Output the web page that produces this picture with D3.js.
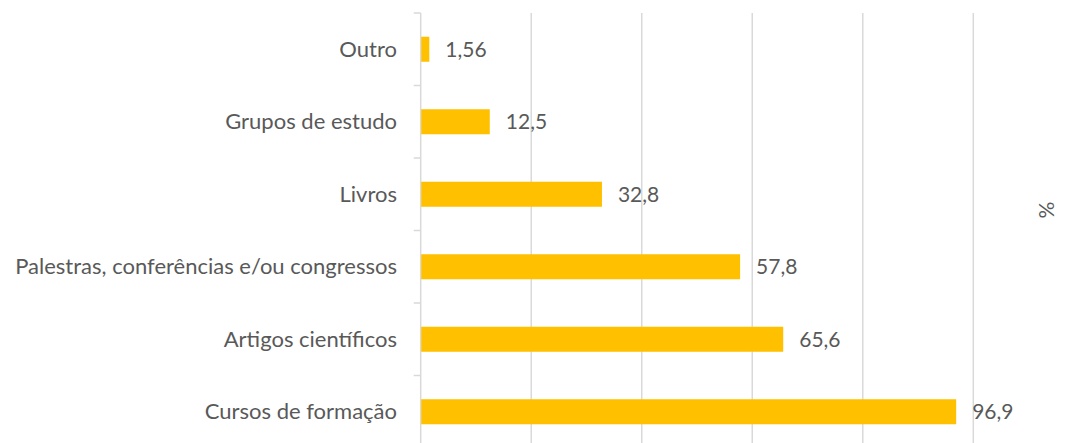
<!DOCTYPE html>
<html>
<head>
<meta charset="utf-8">
<script src="https://cdn.jsdelivr.net/npm/d3@7"></script>
<style>
  body { margin: 0; background: #fff; }
  svg { display: block; }
</style>
</head>
<body>
<script>
// data
var categories = ["Outro", "Grupos de estudo", "Livros",
  "Palestras, conferências e/ou congressos", "Artigos científicos", "Cursos de formação"];
var values = [1.56, 12.5, 32.8, 57.8, 65.6, 96.9];
var valueLabels = ["1,56", "12,5", "32,8", "57,8", "65,6", "96,9"];
var xTicks = [0, 20, 40, 60, 80, 100];

var width = 1075,
    height = 443;

var font = "Lato, 'Open Sans', sans-serif",
    textColor = "#595959";

var x = d3.scaleLinear()
    .domain([0, 100])
    .range([420.7, 973.3]);

var y = d3.scaleBand()
    .domain(categories)
    .range([13, 448])
    .paddingInner(0.655)
    .paddingOuter(0.3275);

var svg = d3.select("body").append("svg")
    .attr("width", width)
    .attr("height", height);

// vertical gridlines
svg.append("g")
  .selectAll("line")
    .data(xTicks.slice(1))
  .enter().append("line")
    .attr("x1", function(d) { return x(d); })
    .attr("x2", function(d) { return x(d); })
    .attr("y1", 13)
    .attr("y2", height)
    .attr("stroke", "#d9d9d9")
    .attr("stroke-width", 1.5);

// category axis with outward ticks between bands
var tickYs = categories.map(function(c) { return y(c) - y.step() * y.paddingInner() / 2; });
tickYs.push(13 + y.step() * categories.length);

var axis = svg.append("g");
axis.append("line")
    .attr("x1", x(0)).attr("x2", x(0))
    .attr("y1", 13).attr("y2", height)
    .attr("stroke", "#d9d9d9")
    .attr("stroke-width", 1.5);
axis.selectAll("line.tick")
    .data(tickYs)
  .enter().append("line")
    .attr("class", "tick")
    .attr("x1", x(0) - 7).attr("x2", x(0))
    .attr("y1", function(d) { return d; })
    .attr("y2", function(d) { return d; })
    .attr("stroke", "#d9d9d9")
    .attr("stroke-width", 1.5);

var rows = categories.map(function(c, i) {
  return { name: c, value: values[i], label: valueLabels[i] };
});

// bars
svg.append("g")
  .selectAll("rect")
    .data(rows)
  .enter().append("rect")
    .attr("x", x(0) + 0.5)
    .attr("y", function(d) { return y(d.name); })
    .attr("width", function(d) { return x(d.value) - x(0) - 0.5; })
    .attr("height", y.bandwidth())
    .attr("fill", "#ffc000");

// category labels
svg.append("g")
  .selectAll("text")
    .data(rows)
  .enter().append("text")
    .attr("x", 397)
    .attr("y", function(d) { return y(d.name) + y.bandwidth() / 2; })
    .attr("dy", "0.35em")
    .attr("text-anchor", "end")
    .attr("font-family", font)
    .attr("font-size", 22)
    .attr("fill", textColor)
    .text(function(d) { return d.name; });

// value labels
svg.append("g")
  .selectAll("text")
    .data(rows)
  .enter().append("text")
    .attr("x", function(d) { return x(d.value) + 16; })
    .attr("y", function(d) { return y(d.name) + y.bandwidth() / 2; })
    .attr("dy", "0.35em")
    .attr("font-family", font)
    .attr("font-size", 21)
    .attr("fill", textColor)
    .text(function(d) { return d.label; });

// axis title
svg.append("text")
    .attr("transform", "translate(1047,210) rotate(-90)")
    .attr("text-anchor", "middle")
    .attr("dy", "0.35em")
    .attr("font-family", font)
    .attr("font-size", 21)
    .attr("fill", textColor)
    .text("%");
</script>
</body>
</html>
